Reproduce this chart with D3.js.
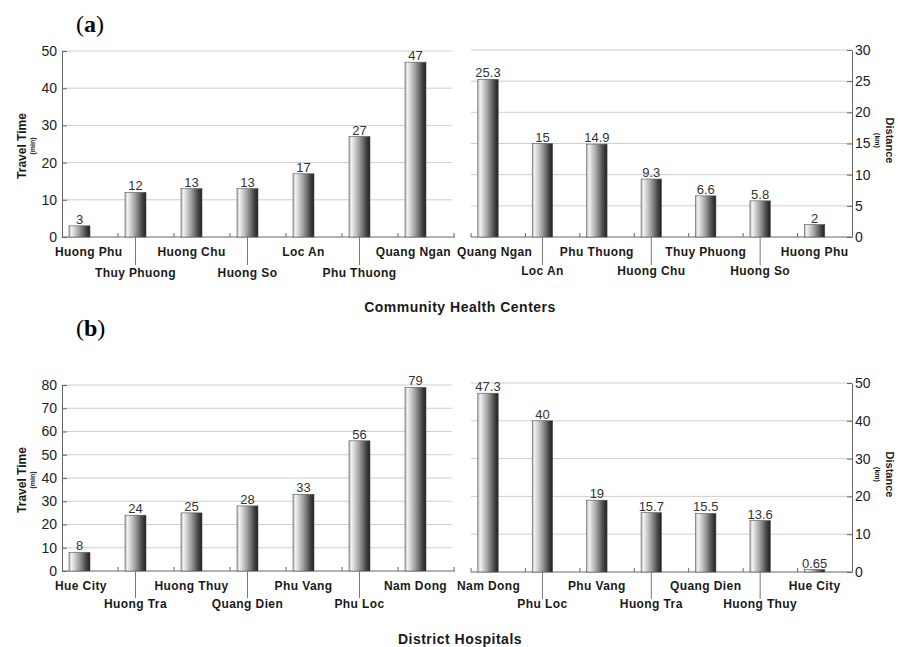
<!DOCTYPE html>
<html>
<head>
<meta charset="utf-8">
<script src="https://cdn.jsdelivr.net/npm/d3@7"></script>
<style>
  body { margin: 0; background: #fff; }
</style>
</head>
<body>
<script>
const width = 898;
const height = 647;
const sans = '"Liberation Sans", Arial, sans-serif';

// (a) Community Health Centers
const chcTimeCats = ["Huong Phu", "Thuy Phuong", "Huong Chu", "Huong So", "Loc An", "Phu Thuong", "Quang Ngan"];
const chcTimeVals = [3, 12, 13, 13, 17, 27, 47];
const chcTimeTicks = [0, 10, 20, 30, 40, 50];
const chcDistCats = ["Quang Ngan", "Loc An", "Phu Thuong", "Huong Chu", "Thuy Phuong", "Huong So", "Huong Phu"];
const chcDistVals = [25.3, 15, 14.9, 9.3, 6.6, 5.8, 2];
const chcDistTicks = [0, 5, 10, 15, 20, 25, 30];

// (b) District Hospitals
const dhTimeCats = ["Hue City", "Huong Tra", "Huong Thuy", "Quang Dien", "Phu Vang", "Phu Loc", "Nam Dong"];
const dhTimeVals = [8, 24, 25, 28, 33, 56, 79];
const dhTimeTicks = [0, 10, 20, 30, 40, 50, 60, 70, 80];
const dhDistCats = ["Nam Dong", "Phu Loc", "Phu Vang", "Huong Tra", "Quang Dien", "Huong Thuy", "Hue City"];
const dhDistVals = [47.3, 40, 19, 15.7, 15.5, 13.6, 0.65];
const dhDistTicks = [0, 10, 20, 30, 40, 50];

const svg = d3.select('body').append('svg')
    .attr('width', width)
    .attr('height', height)
    .style('font-family', sans);

svg.append('rect').attr('width', width).attr('height', height).attr('fill', '#fff');

// cylinder-ish shading of the bars
const grad = svg.append('defs').append('linearGradient')
    .attr('id', 'barGrad').attr('x1', '0%').attr('x2', '100%');
[['0%', '#b8b8b8'], ['12%', '#f2f2f2'], ['45%', '#a8a8a8'], ['80%', '#4a4a4a'], ['100%', '#1e1e1e']]
  .forEach(s => grad.append('stop').attr('offset', s[0]).attr('stop-color', s[1]));

function panel(cats, vals, ticks, o) {
  const x = d3.scaleBand().domain(cats).range([o.x0, o.x1]).padding(0);
  const y = d3.scaleLinear().domain([0, d3.max(ticks)]).range([o.y0, o.y1]);
  const bw = x.bandwidth();
  const mid = c => x(c) + bw * 0.3125;
  const g = svg.append('g');

  // gridlines
  g.selectAll('.grid').data(ticks.slice(1)).enter().append('line')
    .attr('x1', o.gx0).attr('x2', o.gx1)
    .attr('y1', d => y(d)).attr('y2', d => y(d))
    .attr('stroke', '#cfcfcf').attr('stroke-width', 1);

  // y axis
  const axis = o.right ? d3.axisRight(y) : d3.axisLeft(y);
  const ag = g.append('g')
    .attr('transform', `translate(${o.right ? o.x1 : o.x0},0)`)
    .call(axis.tickValues(ticks).tickSizeInner(-5).tickSizeOuter(0).tickPadding(o.right ? 3 : 5));
  ag.select('.domain').attr('stroke', '#666');
  ag.selectAll('.tick line').attr('stroke', '#666');
  ag.selectAll('.tick text')
    .attr('font-size', 14).attr('fill', '#222')
    .attr('font-family', sans);

  // x axis line + band ticks
  g.append('line')
    .attr('x1', o.x0).attr('x2', o.x1 + (o.right ? 0 : 1))
    .attr('y1', o.y0).attr('y2', o.y0)
    .attr('stroke', '#666');
  const edges = cats.map(c => x(c)).concat([o.x1]);
  g.selectAll('.bt').data(edges.slice(o.right ? 0 : 1, o.right ? -1 : undefined)).enter().append('line')
    .attr('x1', d => d).attr('x2', d => d)
    .attr('y1', o.y0).attr('y2', o.y0 - 4)
    .attr('stroke', '#666');

  // bars
  g.selectAll('.bar').data(vals).enter().append('rect')
    .attr('x', (d, i) => x(cats[i]) + bw * 0.125)
    .attr('width', bw * 0.375)
    .attr('y', d => y(d))
    .attr('height', d => o.y0 - y(d))
    .attr('fill', 'url(#barGrad)')
    .attr('stroke', '#555').attr('stroke-width', 0.6);

  // value labels
  g.selectAll('.val').data(vals).enter().append('text')
    .attr('x', (d, i) => mid(cats[i]))
    .attr('y', d => y(d) - 2)
    .attr('text-anchor', 'middle')
    .attr('font-size', 13).attr('fill', '#333')
    .text(d => d);

  // category labels, staggered on two rows
  g.selectAll('.lead').data(cats.filter((c, i) => i % 2 === 1)).enter().append('line')
    .attr('x1', mid).attr('x2', mid)
    .attr('y1', o.y0).attr('y2', o.y0 + o.leadLen)
    .attr('stroke', '#777');
  g.selectAll('.cat').data(cats).enter().append('text')
    .attr('x', mid)
    .attr('y', (d, i) => o.y0 + (i % 2 ? o.row2 : o.row1))
    .attr('text-anchor', 'middle')
    .attr('font-size', 12).attr('font-weight', 'bold').attr('fill', '#1a1a1a')
    .attr('letter-spacing', 0.4)
    .text(d => d)
    .each(function () {
      // keep end labels inside the panel
      const w = this.getComputedTextLength();
      const cx = +d3.select(this).attr('x');
      if (cx - w / 2 < o.labMin) d3.select(this).attr('x', o.labMin + w / 2);
      if (cx + w / 2 > o.labMax) d3.select(this).attr('x', o.labMax - w / 2);
    });

  // axis title
  const cy = (o.y0 + o.y1) / 2 + (o.right ? -3 : 2);
  g.append('text')
    .attr('transform', `translate(${o.titleX},${cy}) rotate(${o.right ? 90 : -90})`)
    .attr('text-anchor', 'middle')
    .attr('font-size', o.right ? 11 : 12).attr('font-weight', 'bold').attr('fill', '#1a1a1a')
    .text(o.title);
  g.append('text')
    .attr('transform', `translate(${o.unitX},${cy}) rotate(${o.right ? 90 : -90})`)
    .attr('text-anchor', 'middle')
    .attr('font-size', 7).attr('font-weight', 'bold').attr('fill', '#1a1a1a')
    .text(o.unit);
}

panel(chcTimeCats, chcTimeVals, chcTimeTicks, {
  x0: 62, x1: 454, y0: 237, y1: 51, gx0: 62, gx1: 452,
  row1: 19, row2: 40, leadLen: 28, labMin: 55, labMax: 451,
  title: 'Travel Time', unit: '(min)', titleX: 26, unitX: 35
});
panel(chcDistCats, chcDistVals, chcDistTicks, {
  right: true, x0: 471, x1: 852, y0: 237, y1: 50, gx0: 471, gx1: 852,
  row1: 19, row2: 38, leadLen: 28, labMin: 457, labMax: 900,
  title: 'Distance', unit: '(km)', titleX: 886, unitX: 875
});
panel(dhTimeCats, dhTimeVals, dhTimeTicks, {
  x0: 62, x1: 454, y0: 571, y1: 385, gx0: 62, gx1: 452,
  row1: 19, row2: 37, leadLen: 27, labMin: 55, labMax: 451,
  title: 'Travel Time', unit: '(min)', titleX: 26, unitX: 35
});
panel(dhDistCats, dhDistVals, dhDistTicks, {
  right: true, x0: 471, x1: 852, y0: 572, y1: 383, gx0: 471, gx1: 852,
  row1: 18, row2: 36, leadLen: 27, labMin: 457, labMax: 900,
  title: 'Distance', unit: '(km)', titleX: 886, unitX: 875
});

// panel letters
[['a', 32], ['b', 336]].forEach(p => {
  const t = svg.append('text').attr('x', 76).attr('y', p[1])
    .style('font-family', '"Liberation Serif", "DejaVu Serif", serif')
    .attr('font-size', 24).attr('fill', '#000');
  t.append('tspan').text('(');
  t.append('tspan').attr('font-weight', 'bold').text(p[0]);
  t.append('tspan').text(')');
});

// group titles
[['Community Health Centers', 312], ['District Hospitals', 644]].forEach(p => {
  svg.append('text').attr('x', 460).attr('y', p[1])
    .attr('text-anchor', 'middle')
    .attr('font-size', 14).attr('font-weight', 'bold').attr('fill', '#1a1a1a')
    .attr('letter-spacing', 0.5)
    .text(p[0]);
});
</script>
</body>
</html>
